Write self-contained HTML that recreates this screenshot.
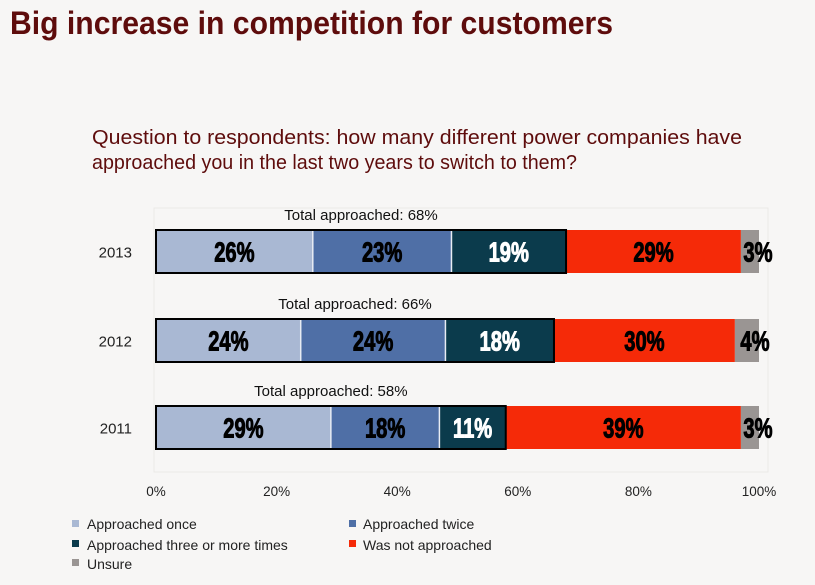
<!DOCTYPE html>
<html><head><meta charset="utf-8"><style>
body{margin:0;background:#f7f6f5;}
svg{display:block;font-family:"Liberation Sans",sans-serif;}
</style></head><body>
<svg width="815" height="585" viewBox="0 0 815 585">
<rect width="815" height="585" fill="#f7f6f5"/>
<text x="10" y="34" font-size="32" font-weight="bold" fill="#5e0c0c" textLength="603" lengthAdjust="spacingAndGlyphs">Big increase in competition for customers</text>
<text x="92" y="144" font-size="20" fill="#5e0c0c" textLength="650" lengthAdjust="spacingAndGlyphs">Question to respondents: how many different power companies have</text>
<text x="92" y="169" font-size="20" fill="#5e0c0c" textLength="485" lengthAdjust="spacingAndGlyphs">approached you in the last two years to switch to them?</text>
<rect x="154" y="208" width="614" height="264" fill="none" stroke="#ebe9e7"/>
<g id="bars"></g>
<g id="axis"></g>
<g id="legend" font-size="14" fill="#222">
<rect x="72" y="520" width="7" height="7" fill="#a9b8d3"/>
<text x="87" y="529">Approached once</text>
<rect x="349" y="520" width="7" height="7" fill="#4f6fa6"/>
<text x="363" y="529">Approached twice</text>
<rect x="72" y="540" width="7" height="7" fill="#0b3b4c"/>
<text x="87" y="550">Approached three or more times</text>
<rect x="349" y="540" width="7" height="7" fill="#f52a08"/>
<text x="363" y="550">Was not approached</text>
<rect x="72" y="559" width="7" height="7" fill="#9a9593"/>
<text x="87" y="569">Unsure</text>
</g>
</svg>
<script>
const years = ["2013","2012","2011"];
const once = [26,24,29];
const twice = [23,24,18];
const three = [19,18,11];
const notApproached = [29,30,39];
const unsure = [3,4,3];
const totals = [68,66,58];
const ticks = [0,20,40,60,80,100];

const NS="http://www.w3.org/2000/svg";
const x0=156,x1=759;
const xs=v=>x0+(x1-x0)*v/100;
const rowY=[230,319,406], barH=43;
const colors=["#a9b8d3","#4f6fa6","#0b3b4c","#f52a08","#9a9593"];
const txtCol=["#000","#000","#fff","#000","#000"];
const series=[once,twice,three,notApproached,unsure];
const names=["once","twice","three","not-approached","unsure"];
const g=document.getElementById("bars");
function mk(tag,attrs){const e=document.createElementNS(NS,tag);for(const k in attrs)e.setAttribute(k,attrs[k]);return e;}
years.forEach((yr,i)=>{
  const y=rowY[i];
  const yl=mk("text",{x:132,y:y+barH/2+6,"font-size":"15","text-anchor":"end",fill:"#222"});
  yl.textContent=yr;
  
  
  g.appendChild(yl);
  let cum=0;
  series.forEach((s,j)=>{
    const v=s[i];
    const r=mk("rect",{x:xs(cum),y:y,width:xs(cum+v)-xs(cum),height:barH,fill:colors[j]});
    
    
    g.appendChild(r);
    if(j<3&&j>0){const l=mk("line",{x1:xs(cum),x2:xs(cum),y1:y,y2:y+barH,stroke:"#e8ecf3","stroke-width":"1.5"});g.appendChild(l);}
    const t=mk("text",{x:0,y:0,"font-size":"28","font-weight":"bold","text-anchor":"middle",fill:txtCol[j],stroke:txtCol[j],"stroke-width":"1",transform:"translate("+(xs(cum+v/2)+(j==4?8:0))+","+(y+barH/2+10)+") scale(0.72,1)"});
    t.textContent=v+"%";
    
    
    g.appendChild(t);
    cum+=v;
  });
  const ap=once[i]+twice[i]+three[i];
  const o=mk("rect",{x:xs(0),y:y,width:xs(ap)-xs(0),height:barH,fill:"none",stroke:"#000","stroke-width":"2"});
  
  
  g.appendChild(o);
  const tt=mk("text",{x:xs(totals[i]/2),y:y-10,"font-size":"15","text-anchor":"middle",fill:"#111"});
  tt.textContent="Total approached:  "+totals[i]+"%";
  
  
  g.appendChild(tt);
});
const a=document.getElementById("axis");
ticks.forEach(t=>{
  const e=mk("text",{x:xs(t),y:496,"font-size":"13.5","text-anchor":"middle",fill:"#222"});
  e.textContent=t+"%";
  
  
  a.appendChild(e);
});
</script>
</body></html>
